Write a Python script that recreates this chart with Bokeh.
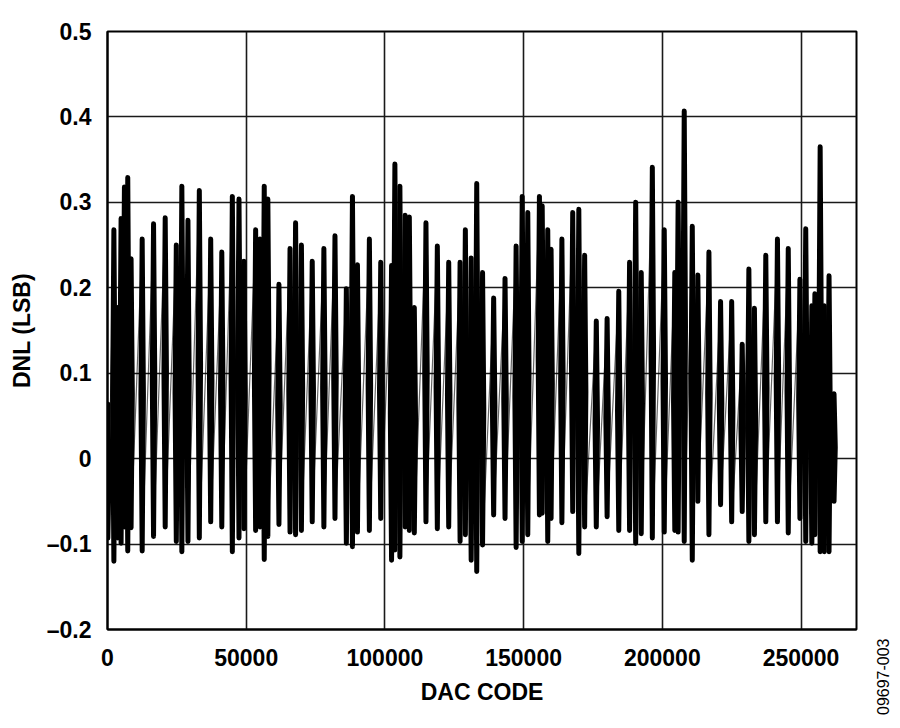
import math
from bokeh.plotting import figure
from bokeh.layouts import row
from bokeh.models import FixedTicker, ColumnDataSource
from bokeh.embed import file_html
from bokeh.resources import INLINE

# DNL excursions: DAC code, upper and lower extreme (LSB)
spike_code = [120, 2300, 3700, 4900, 6100, 7300, 8500, 12500, 16600, 20800,
              24800, 26800, 29000, 33100, 37200, 41200, 45000, 47400, 49200, 53400,
              55000, 56500, 57800, 61800, 65800, 67800, 69900, 73800, 78000, 82000,
              86100, 88300, 90100, 94400, 98500, 102400, 103600, 105400, 107300, 108800,
              110600, 114800, 118900, 123000, 127100, 129000, 131100, 133100, 135200, 139200,
              143300, 147300, 149500, 151500, 155700, 156700, 158700, 159900, 163800, 167700,
              169900, 172000, 176200, 180100, 184300, 188200, 190400, 192400, 196400, 200700,
              204500, 205700, 207900, 210800, 212800, 216800, 221000, 225000, 228800, 231200,
              233200, 237300, 241500, 245400, 249600, 251700, 253900, 255000, 256900, 258400,
              260100, 261900]
spike_high = [0.064, 0.268, 0.177, 0.281, 0.318, 0.329, 0.234, 0.257, 0.275, 0.282,
              0.250, 0.319, 0.279, 0.314, 0.257, 0.242, 0.307, 0.304, 0.231, 0.268,
              0.257, 0.319, 0.304, 0.204, 0.246, 0.276, 0.250, 0.231, 0.246, 0.261,
              0.199, 0.307, 0.227, 0.257, 0.230, 0.226, 0.345, 0.319, 0.285, 0.283,
              0.177, 0.276, 0.249, 0.230, 0.230, 0.268, 0.235, 0.322, 0.218, 0.188,
              0.211, 0.249, 0.307, 0.288, 0.307, 0.296, 0.268, 0.245, 0.257, 0.288,
              0.292, 0.238, 0.161, 0.164, 0.196, 0.230, 0.300, 0.218, 0.341, 0.268,
              0.218, 0.300, 0.407, 0.272, 0.215, 0.242, 0.184, 0.184, 0.134, 0.222,
              0.176, 0.238, 0.257, 0.246, 0.210, 0.269, 0.179, 0.193, 0.365, 0.179,
              0.214, 0.076]
spike_low = [-0.093, -0.120, -0.093, -0.099, -0.080, -0.108, -0.081, -0.108, -0.091, -0.080,
             -0.097, -0.109, -0.097, -0.093, -0.074, -0.080, -0.109, -0.093, -0.082, -0.084,
             -0.080, -0.118, -0.091, -0.077, -0.086, -0.089, -0.084, -0.074, -0.080, -0.070,
             -0.099, -0.103, -0.086, -0.084, -0.070, -0.119, -0.107, -0.115, -0.080, -0.084,
             -0.087, -0.074, -0.082, -0.080, -0.097, -0.089, -0.119, -0.132, -0.101, -0.066,
             -0.070, -0.104, -0.097, -0.089, -0.066, -0.064, -0.097, -0.070, -0.075, -0.062,
             -0.111, -0.080, -0.080, -0.068, -0.084, -0.084, -0.099, -0.088, -0.093, -0.086,
             -0.084, -0.086, -0.097, -0.119, -0.050, -0.089, -0.054, -0.074, -0.062, -0.097,
             -0.089, -0.074, -0.074, -0.087, -0.070, -0.097, -0.099, -0.089, -0.109, -0.109,
             -0.109, -0.050]

x_ticks = [0, 50000, 100000, 150000, 200000, 250000]
x_tick_labels = ["0", "50000", "100000", "150000", "200000", "250000"]
y_ticks = [-0.2, -0.1, 0, 0.1, 0.2, 0.3, 0.4, 0.5]
y_tick_labels = ["\u20130.2", "\u20130.1", "0", "0.1", "0.2", "0.3", "0.4", "0.5"]
figure_number = "09697-003"

FONT = "Liberation Sans"
LOOP = 450  # half-width of each up/down loop, in codes
H = 718

p = figure(width=866, height=H, x_range=(0, 270000), y_range=(-0.2, 0.5),
           output_backend="svg", toolbar_location=None, title=None,
           min_border_left=107, min_border_right=10, min_border_top=31, min_border_bottom=89)

# thin trace joining one excursion to the next
path_x, path_y = [], []
for c, hi, lo in zip(spike_code, spike_high, spike_low):
    path_x += [c, c]
    path_y += [hi, lo]
p.line(path_x, path_y, line_color="black", line_width=1.2, line_alpha=0.6)

# each excursion drawn as a narrow up/down loop
loop_xs, loop_ys = [], []
for c, hi, lo in zip(spike_code, spike_high, spike_low):
    mid = (hi + lo) / 2
    loop_xs.append([c - LOOP, c, c + LOOP, c, c - LOOP])
    loop_ys.append([mid, hi, mid, lo, mid])
src = ColumnDataSource(data=dict(xs=loop_xs, ys=loop_ys))
p.multi_line(xs="xs", ys="ys", source=src, line_color="black",
             line_width=5, line_cap="round", line_join="round")

p.outline_line_color = "black"
p.outline_line_width = 2
p.background_fill_color = "white"
p.border_fill_color = "white"

for ax in (p.xaxis[0], p.yaxis[0]):
    ax.major_tick_line_color = None
    ax.minor_tick_line_color = None
    ax.major_tick_out = 0
    ax.major_tick_in = 0
    ax.axis_line_color = "black"
    ax.axis_line_width = 2
    ax.major_label_text_font = FONT
    ax.major_label_text_font_style = "bold"
    ax.major_label_text_font_size = "23px"
    ax.major_label_text_color = "black"
    ax.axis_label_text_font = FONT
    ax.axis_label_text_font_style = "bold"
    ax.axis_label_text_font_size = "23px"
    ax.axis_label_text_color = "black"

p.xaxis.ticker = FixedTicker(ticks=x_ticks)
p.xaxis.major_label_overrides = dict(zip(x_ticks, x_tick_labels))
p.yaxis.ticker = FixedTicker(ticks=y_ticks)
p.yaxis.major_label_overrides = dict(zip(y_ticks, y_tick_labels))
p.xaxis.axis_label = "DAC CODE"
p.yaxis.axis_label = "DNL (LSB)"
p.xaxis.major_label_standoff = 19
p.yaxis.major_label_standoff = 16
p.xaxis.axis_label_standoff = 10
p.yaxis.axis_label_standoff = 9

for g in (p.xgrid[0], p.ygrid[0]):
    g.grid_line_color = "#1a1a1a"
    g.grid_line_width = 1.6

# narrow strip to the right; its bottom axis carries the vertical figure number
side = figure(width=30, height=H, x_range=(0, 30), y_range=(0, 1),
              output_backend="svg", toolbar_location=None, title=None,
              min_border=0)
side.yaxis.visible = False
side.grid.visible = False
side.outline_line_color = None
sx = side.xaxis[0]
sx.ticker = FixedTicker(ticks=[16])
sx.major_label_overrides = {16: figure_number}
sx.major_label_orientation = math.pi / 2
sx.major_label_standoff = 9
sx.major_label_text_font = FONT
sx.major_label_text_font_size = "16px"
sx.major_label_text_color = "black"
sx.axis_line_color = None
sx.major_tick_line_color = None
sx.minor_tick_line_color = None
sx.major_tick_out = 0
sx.major_tick_in = 0

open("out.html", "w").write(file_html(row(p, side), INLINE))
